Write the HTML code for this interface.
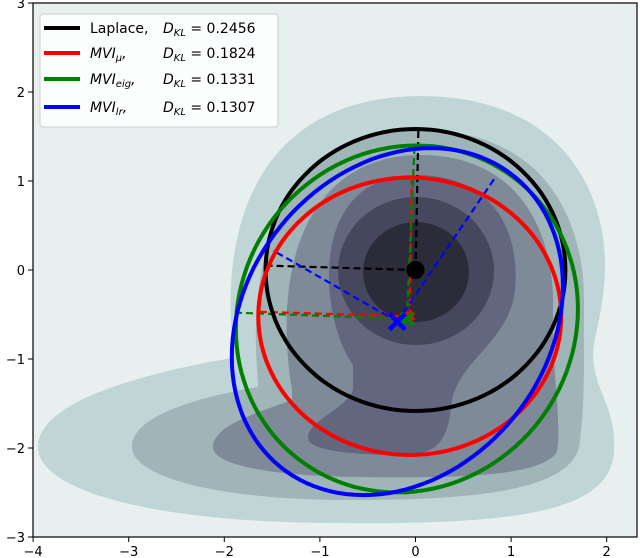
<!DOCTYPE html>
<html><head><meta charset="utf-8"><style>
html,body{margin:0;padding:0;background:#fff;}
svg{display:block;font-family:"DejaVu Sans","Liberation Sans",sans-serif;}
</style></head><body>
<svg id="chart" width="640" height="558" viewBox="0 0 640 558" xmlns="http://www.w3.org/2000/svg">
<defs><clipPath id="plotclip"><rect x="33" y="3" width="604" height="534"/></clipPath></defs>
<rect x="33" y="3" width="604" height="534" fill="#e8f0ef"/>
<g id="contours" clip-path="url(#plotclip)">
<path fill="#c0d6d6" d="M232,335 C222,220 262,97 420,96 C560,96 606,190 605,267 C604,320 590,340 594,365 C598,395 616,410 614,450 C612,512 520,525 330,523 C150,522 38,490 38,447 C38,400 150,372 232,358 Z"/>
<path fill="#a0b5b8" d="M258,382 C245,240 290,130 420,130 C545,130 584,220 584,300 C584,360 585,400 580,440 C578,490 480,500 350,500 C210,500 132,475 132,447 C132,415 200,397 258,387 Z"/>
<path fill="#7f8a98" d="M292,390 C270,255 315,155 420,155 C525,155 555,240 553,310 C552,380 562,420 557,452 C540,478 450,478 360,477 C270,476 213,465 213,447 C213,425 260,412 292,400 Z"/>
<path fill="#62667e" d="M353,365 C320,320 305,175 416,175 C500,175 520,240 515,290 C510,340 460,360 452,400 C448,440 440,455 400,455 C350,455 308,450 308,438 C308,420 345,410 353,390 Z"/>
<ellipse fill="#45475d" cx="416" cy="271" rx="78" ry="74"/>
<ellipse fill="#2b2b39" cx="416" cy="272" rx="53" ry="50"/>
</g>
<g id="series" clip-path="url(#plotclip)"></g>
<rect x="33" y="3" width="604" height="534" fill="none" stroke="#000" stroke-width="1.2"/>
<g id="axes"></g>
<g>
<rect x="40" y="14" width="238" height="113" rx="3" fill="#fff" fill-opacity="0.85" stroke="#ccc"/>
<g><line x1="44" y1="28" x2="80" y2="28" stroke="#000" stroke-width="4"/><text x="90" y="33" font-size="14">Laplace,</text><text x="163" y="33" font-size="14"><tspan font-style="italic">D</tspan><tspan font-style="italic" font-size="10" dy="3">KL</tspan><tspan dy="-3"> = 0.2456</tspan></text></g>
<g><line x1="44" y1="53" x2="80" y2="53" stroke="#ff0000" stroke-width="4"/><text x="90" y="58" font-size="14" font-style="italic">MVI<tspan font-size="10" dy="3">μ</tspan><tspan dy="-3">,</tspan></text><text x="163" y="58" font-size="14"><tspan font-style="italic">D</tspan><tspan font-style="italic" font-size="10" dy="3">KL</tspan><tspan dy="-3"> = 0.1824</tspan></text></g>
<g><line x1="44" y1="79" x2="80" y2="79" stroke="#008000" stroke-width="4"/><text x="90" y="84" font-size="14" font-style="italic">MVI<tspan font-size="10" dy="3">eig</tspan><tspan dy="-3">,</tspan></text><text x="163" y="84" font-size="14"><tspan font-style="italic">D</tspan><tspan font-style="italic" font-size="10" dy="3">KL</tspan><tspan dy="-3"> = 0.1331</tspan></text></g>
<g><line x1="44" y1="107" x2="80" y2="107" stroke="#0000ff" stroke-width="4"/><text x="90" y="112" font-size="14" font-style="italic">MVI<tspan font-size="10" dy="3">lr</tspan><tspan dy="-3">,</tspan></text><text x="163" y="112" font-size="14"><tspan font-style="italic">D</tspan><tspan font-style="italic" font-size="10" dy="3">KL</tspan><tspan dy="-3"> = 0.1307</tspan></text></g>
</g>
</svg>
<script>
const xTicks = [-4, -3, -2, -1, 0, 1, 2];
const yTicks = [-3, -2, -1, 0, 1, 2, 3];
const seriesNames = ['laplace', 'mvi-mu', 'mvi-eig', 'mvi-lr'];
const seriesColors = ['#000000', '#ff0000', '#008000', '#0000ff'];
const centersX = [0.0, -0.06, -0.09, -0.19];
const centersY = [0.0, -0.52, -0.55, -0.58];
const varX = [2.46, 2.51, 3.20, 3.00];
const varY = [2.51, 2.43, 3.80, 3.80];
const covXY = [0.0, 0.0, 0.20, 0.69];
const axisAx = [0.03, 0.02, 0.08, 1.03];
const axisAy = [1.57, 1.57, 1.95, 1.63];
const axisBx = [-1.57, -1.57, -1.78, -1.30];
const axisBy = [0.05, 0.05, 0.07, 0.80];

const sx = x => 415.5 + 95.6 * x;
const sy = y => 270 - 89 * y;
const NS = 'http://www.w3.org/2000/svg';
const series = document.getElementById('series');
const axes = document.getElementById('axes');
function mk(tag, attrs, parent) {
  const e = document.createElementNS(NS, tag);
  for (const k in attrs) e.setAttribute(k, attrs[k]);
  parent.appendChild(e);
  return e;
}
for (let i = 0; i < seriesNames.length; i++) {
  const cx = centersX[i], cy = centersY[i];
  const d1 = mk('line', {x1: sx(cx), y1: sy(cy), x2: sx(cx + axisAx[i]), y2: sy(cy + axisAy[i]), stroke: seriesColors[i], 'stroke-width': 2.2, 'stroke-dasharray': '7,4'}, series);
  
  
  const d2 = mk('line', {x1: sx(cx), y1: sy(cy), x2: sx(cx + axisBx[i]), y2: sy(cy + axisBy[i]), stroke: seriesColors[i], 'stroke-width': 2.2, 'stroke-dasharray': '7,4'}, series);
  
  
}
for (let i = 0; i < seriesNames.length; i++) {
  const a = Math.sqrt(varX[i]);
  const ay = covXY[i] / a;
  const by = Math.sqrt(Math.max(varY[i] - ay * ay, 0.0001));
  let d = '';
  for (let k = 0; k <= 120; k++) {
    const t = 2 * Math.PI * k / 120;
    const x = centersX[i] + Math.cos(t) * a;
    const y = centersY[i] + Math.cos(t) * ay + Math.sin(t) * by;
    d += (k ? 'L' : 'M') + sx(x).toFixed(1) + ',' + sy(y).toFixed(1);
  }
  const p = mk('path', {d: d + 'Z', fill: 'none', stroke: seriesColors[i], 'stroke-width': 4}, series);
  
  
}
const m0 = mk('circle', {cx: sx(centersX[0]), cy: sy(centersY[0]), r: 9, fill: '#000'}, series);


const msz = [0, 4, 6, 8];
for (let i = 1; i < seriesNames.length; i++) {
  const cx = sx(centersX[i]), cy = sy(centersY[i]), s = msz[i];
  const p = mk('path', {d: `M${cx-s},${cy-s}L${cx+s},${cy+s}M${cx-s},${cy+s}L${cx+s},${cy-s}`, stroke: seriesColors[i], 'stroke-width': 4.5, fill: 'none'}, series);
  
  
}
for (const v of xTicks) {
  const x = sx(v);
  const l = mk('line', {x1: x, y1: 537, x2: x, y2: 542, stroke: '#000', 'stroke-width': 1}, axes);
  
  
  const t = mk('text', {x: x, y: 556, 'font-size': 13, 'text-anchor': 'middle'}, axes);
  
  
  t.textContent = v < 0 ? '\u2212' + (-v) : String(v);
}
for (const v of yTicks) {
  const y = sy(v);
  const l = mk('line', {x1: 28, y1: y, x2: 33, y2: y, stroke: '#000', 'stroke-width': 1}, axes);
  
  
  const t = mk('text', {x: 25, y: y + 5, 'font-size': 13, 'text-anchor': 'end'}, axes);
  
  
  t.textContent = v < 0 ? '\u2212' + (-v) : String(v);
}
</script>
</body></html>
